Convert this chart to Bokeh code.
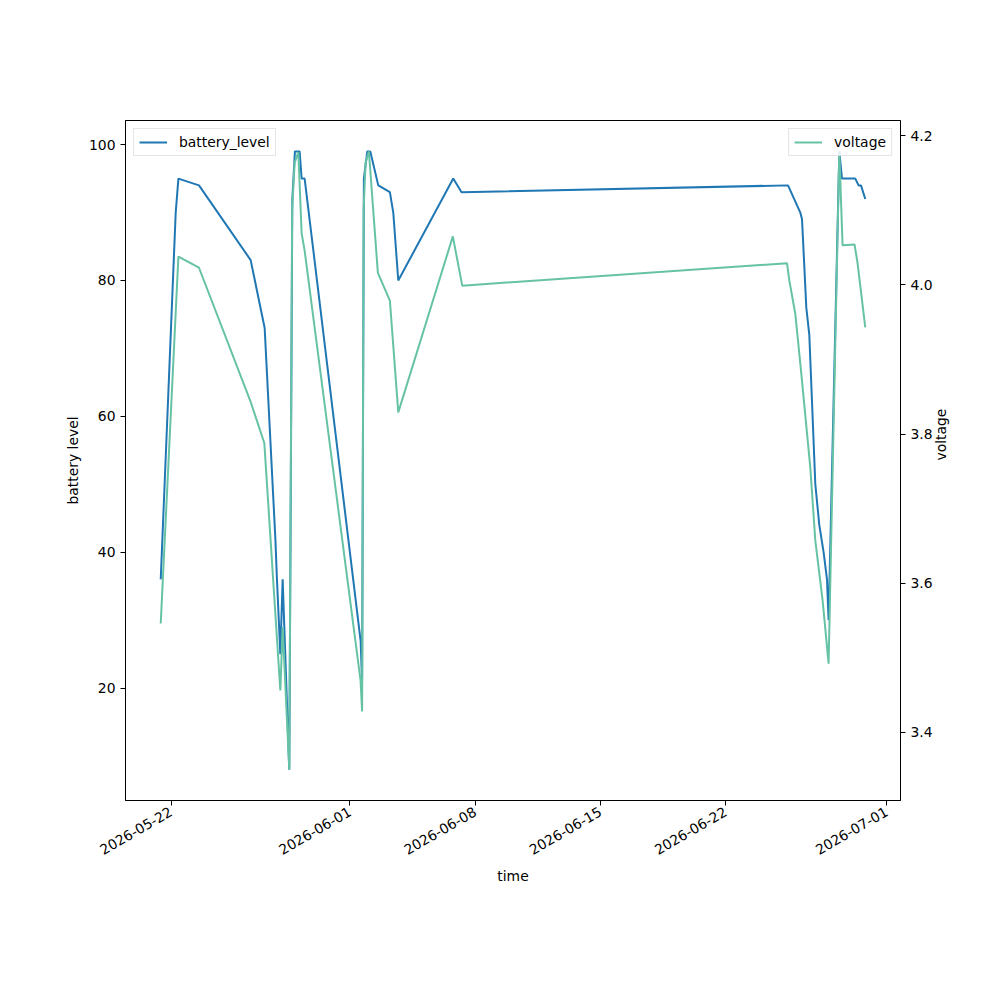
import math
import pandas as pd
from bokeh.plotting import figure
from bokeh.models import (Range1d, LinearAxis, Legend, LegendItem, FixedTicker,
                          DatetimeTickFormatter, ColumnDataSource, PrintfTickFormatter)
from bokeh.embed import file_html
from bokeh.resources import INLINE

# ---- data ----
battery_time = [
    "2026-05-21 10:12", "2026-05-22 06:18", "2026-05-22 09:55", "2026-05-23 13:32",
    "2026-05-26 10:52", "2026-05-27 05:38", "2026-05-27 20:00", "2026-05-27 22:08",
    "2026-05-28 02:40", "2026-05-28 05:46", "2026-05-28 14:40", "2026-05-28 18:46",
    "2026-05-28 22:15", "2026-05-29 04:33", "2026-05-29 07:15", "2026-05-29 11:16",
    "2026-06-01 14:21", "2026-06-01 16:22", "2026-06-01 18:46", "2026-06-01 23:20",
    "2026-06-02 03:21", "2026-06-02 14:05", "2026-06-03 05:38", "2026-06-03 10:12",
    "2026-06-03 16:54", "2026-06-06 18:39", "2026-06-07 05:46", "2026-06-25 11:48",
    "2026-06-26 04:18", "2026-06-26 06:35", "2026-06-26 12:20", "2026-06-26 16:21",
    "2026-06-27 00:25", "2026-06-27 05:46", "2026-06-27 11:31", "2026-06-27 16:05",
    "2026-06-27 18:14", "2026-06-28 08:36", "2026-06-28 12:12", "2026-06-29 06:02",
    "2026-06-29 10:28", "2026-06-29 13:41", "2026-06-29 19:26",
]
battery_level = [
    36, 90, 95, 94,
    83, 73, 42, 36,
    25, 36, 8, 92,
    99, 99, 95, 95,
    27, 21, 95, 99,
    99, 94, 93, 90,
    80, 95, 93, 94,
    90, 89, 76, 72,
    50, 44, 40, 36,
    30, 99, 95, 95,
    94, 94, 92,
]

voltage_time = [
    "2026-05-21 10:12", "2026-05-22 09:55", "2026-05-23 13:32", "2026-05-26 10:52",
    "2026-05-27 05:10", "2026-05-28 02:40", "2026-05-28 05:46", "2026-05-28 14:40",
    "2026-05-28 18:30", "2026-05-28 21:51", "2026-05-29 02:49", "2026-05-29 07:15",
    "2026-05-29 11:16", "2026-06-01 14:21", "2026-06-01 16:22", "2026-06-01 18:23",
    "2026-06-01 21:03", "2026-06-02 01:28", "2026-06-02 13:32", "2026-06-03 05:38",
    "2026-06-03 16:54", "2026-06-06 18:06", "2026-06-07 06:42", "2026-06-25 10:28",
    "2026-06-25 13:32", "2026-06-25 21:34", "2026-06-26 05:14", "2026-06-26 17:41",
    "2026-06-27 00:25", "2026-06-27 10:12", "2026-06-27 18:14", "2026-06-28 08:36",
    "2026-06-28 13:00", "2026-06-29 05:05", "2026-06-29 09:07", "2026-06-29 19:26",
]
voltage = [
    3.546, 4.038, 4.023, 3.843,
    3.788, 3.456, 3.541, 3.35,
    4.10, 4.164, 4.178, 4.069,
    4.046, 3.469, 3.428, 4.10,
    4.164, 4.179, 4.016, 3.979,
    3.829, 4.065, 3.999, 4.029,
    4.006, 3.961, 3.885, 3.755,
    3.657, 3.577, 3.492, 4.178,
    4.053, 4.054, 4.029, 3.943,
]

x_tick_labels = ["2026-05-22", "2026-06-01", "2026-06-08", "2026-06-15", "2026-06-22", "2026-07-01"]
battery_ticks = [20, 40, 60, 80, 100]
voltage_ticks = [3.4, 3.6, 3.8, 4.0, 4.2]

# ---- build ----
bt = pd.to_datetime(battery_time)
vt = pd.to_datetime(voltage_time)

def pad_range(lo, hi, frac=0.05):
    d = (hi - lo) * frac
    return lo - d, hi + d

all_t = bt.append(vt)
tmin, tmax = all_t.min(), all_t.max()
x0, x1 = pad_range(tmin, tmax)
y0, y1 = pad_range(min(battery_level), max(battery_level))
v0, v1 = pad_range(min(voltage), max(voltage))

FONT = "DejaVu Sans"
FS = "13.9px"

p = figure(width=984, height=984, x_axis_type="datetime",
           x_range=Range1d(x0, x1), y_range=Range1d(y0, y1),
           output_backend="svg", toolbar_location=None,
           min_border_left=125, min_border_right=84,
           min_border_top=120, min_border_bottom=184)
p.extra_y_ranges = {"v": Range1d(v0, v1)}

p.xgrid.visible = False
p.ygrid.visible = False
p.outline_line_color = "black"
p.outline_line_width = 1
p.background_fill_color = "white"
p.border_fill_color = "white"

src_b = ColumnDataSource(dict(t=bt, y=battery_level))
src_v = ColumnDataSource(dict(t=vt, y=voltage))
r1 = p.line("t", "y", source=src_b, color="#1f77b4", line_width=2)
r2 = p.line("t", "y", source=src_v, color="#66c2a5", line_width=2, y_range_name="v")

vax = LinearAxis(y_range_name="v", axis_label="voltage")
p.add_layout(vax, "right")

tick_ms = [int(t.value // 10**6) for t in pd.to_datetime(x_tick_labels)]
p.xaxis.ticker = FixedTicker(ticks=tick_ms)
p.xaxis.formatter = DatetimeTickFormatter(days="%Y-%m-%d", months="%Y-%m-%d",
                                          hours="%Y-%m-%d", years="%Y-%m-%d")
p.xaxis.major_label_orientation = math.pi / 6
p.xaxis.axis_label = "time"
p.yaxis[0].ticker = FixedTicker(ticks=battery_ticks)
p.yaxis[0].axis_label = "battery level"
vax.ticker = FixedTicker(ticks=voltage_ticks)
vax.formatter = PrintfTickFormatter(format="%.1f")

for ax in p.xaxis + p.yaxis:
    ax.minor_tick_line_color = None
    ax.major_tick_in = 0
    ax.major_tick_out = 5
    ax.major_tick_line_color = "black"
    ax.axis_line_color = "black"
    ax.major_label_text_font = FONT
    ax.major_label_text_font_size = FS
    ax.major_label_text_color = "black"
    ax.axis_label_text_font = FONT
    ax.axis_label_text_font_size = FS
    ax.axis_label_text_font_style = "normal"
    ax.axis_label_text_color = "black"
    ax.major_label_standoff = 5

vax.axis_label_orientation = math.pi / 2
vax.axis_label_standoff = 5

def make_legend(label, r, loc):
    lg = Legend(items=[LegendItem(label=label, renderers=[r])], location=loc)
    lg.margin = 8
    lg.padding = 5
    lg.label_standoff = 12
    lg.glyph_width = 28
    lg.glyph_height = 14
    lg.label_height = 14
    lg.label_text_font = FONT
    lg.label_text_font_size = FS
    lg.label_text_color = "black"
    lg.border_line_color = "#cccccc"
    lg.border_line_width = 1
    lg.background_fill_alpha = 0.8
    return lg

p.add_layout(make_legend("battery_level", r1, "top_left"))
p.add_layout(make_legend("voltage", r2, "top_right"))

open("out.html", "w").write(file_html(p, INLINE))
